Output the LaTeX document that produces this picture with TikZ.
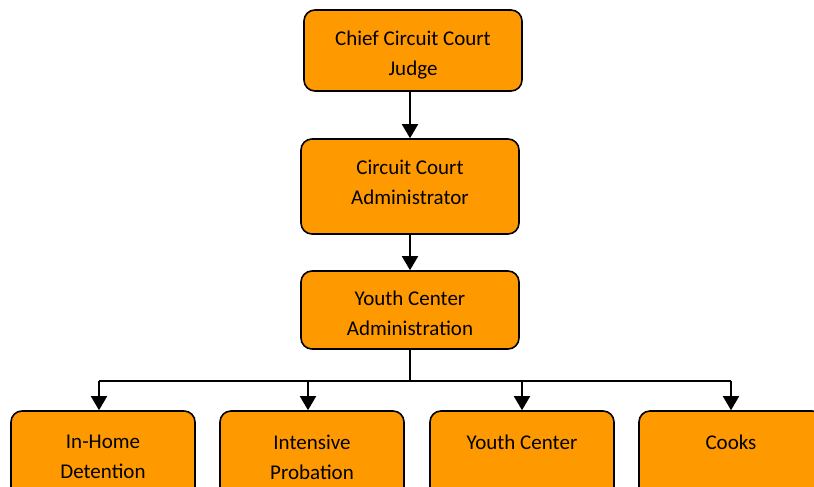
\documentclass[tikz,border=0pt]{standalone}
\usepackage{fontspec}
\setmainfont{Carlito}
\usetikzlibrary{arrows.meta}

\definecolor{boxorange}{RGB}{255,153,0}

\begin{document}
\begin{tikzpicture}[
    x=1pt,
    y=-1pt,
    unit/.style={
        draw,
        line width=1.6pt,
        fill=boxorange,
        rounded corners=11pt,
        inner sep=0pt,
    },
    unittext/.style={
        align=center,
        inner sep=0pt,
        font=\fontsize{21}{30}\selectfont,
    },
    topbox/.style={unit, minimum width=218pt},
    lowbox/.style={unit, minimum width=184pt, minimum height=90pt},
    link/.style={draw, line width=1.8pt, -{Triangle[width=16pt,length=14pt]}},
    ]
    \useasboundingbox (0,0) rectangle (814,487);
    \clip (0,0) rectangle (814,487);

    \node[topbox, minimum height=81pt,
        label={[unittext, yshift=-5pt]center:{Chief Circuit Court\\Judge}}] (judge) at (413,50.5) {};
    \node[topbox, minimum height=95pt,
        label={[unittext, yshift=4pt]center:{Circuit Court\\Administrator}}] (admin) at (410,186.5) {};
    \node[topbox, minimum height=78pt,
        label={[unittext, yshift=-3.5pt]center:{Youth Center\\Administration}}] (centeradmin) at (410,310) {};

    \node[lowbox, label={[unittext, yshift=-1pt]center:{In-Home\\Detention}}] (detention) at (103,456) {};
    \node[lowbox, label={[unittext, yshift=-1pt]center:{Intensive\\Probation}}] (probation) at (312,456) {};
    \node[lowbox, label={[unittext, yshift=-1pt]center:{Youth Center\\\mbox{}}}] (youth) at (522,456) {};
    \node[lowbox, label={[unittext, yshift=-1pt]center:{Cooks\\\mbox{}}}] (cooks) at (731,456) {};

    \draw[link] (admin.north |- judge.south) -- (admin.north);
    \draw[link] (admin.south) -- (centeradmin.north);

    % fork to the four units
    \draw[line width=1.8pt] (centeradmin.south) -- ++(0,31) coordinate (fork);
    \draw[line width=1.8pt] ([xshift=-4pt]detention.north |- fork) -- (cooks.north |- fork);
    \draw[link] ([xshift=-4pt]detention.north |- fork) -- ([xshift=-4pt]detention.north);
    \draw[link] ([xshift=-4pt]probation.north |- fork) -- ([xshift=-4pt]probation.north);
    \draw[link] (youth.north |- fork) -- (youth.north);
    \draw[link] (cooks.north |- fork) -- (cooks.north);
\end{tikzpicture}
\end{document}
